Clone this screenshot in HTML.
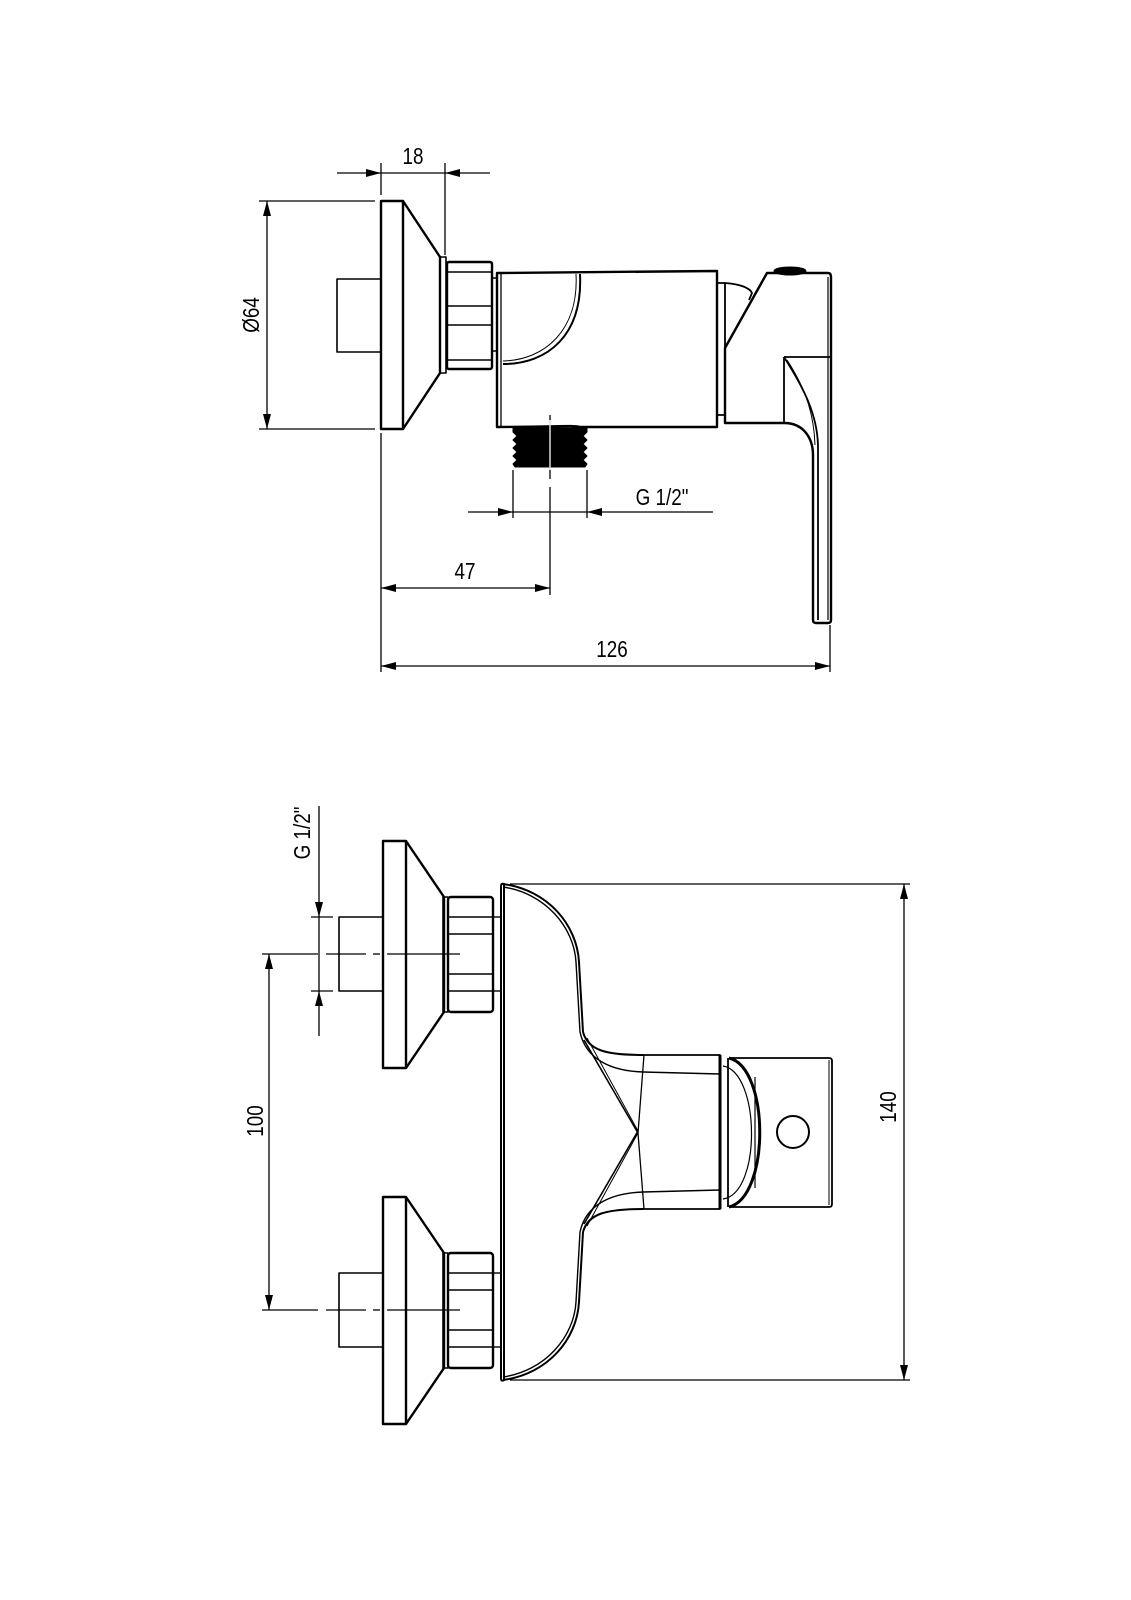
<!DOCTYPE html>
<html><head><meta charset="utf-8"><style>
html,body{margin:0;padding:0;background:#fff;}
svg{display:block;}
text{font-family:"Liberation Sans Narrow","Liberation Sans",sans-serif;font-size:23px;fill:#000;}
</style></head><body>
<svg width="1131" height="1600" viewBox="0 0 1131 1600" xmlns="http://www.w3.org/2000/svg">
<g fill="none" stroke="#000" stroke-linejoin="round">
<!-- ============ TOP VIEW ============ -->
<g stroke-width="1.3">
<line x1="337" y1="173" x2="490" y2="173"/>
<line x1="381" y1="163" x2="381" y2="195"/>
<line x1="445" y1="163" x2="445" y2="255"/>
<line x1="259" y1="201" x2="375" y2="201"/>
<line x1="259" y1="429" x2="375" y2="429"/>
<line x1="267" y1="201" x2="267" y2="429"/>
<line x1="381" y1="433" x2="381" y2="672"/>
<line x1="830" y1="625" x2="830" y2="672"/>
<line x1="513" y1="470" x2="513" y2="518"/>
<line x1="587" y1="470" x2="587" y2="518"/>
<line x1="468" y1="512" x2="713" y2="512"/>
<line x1="381" y1="588" x2="550" y2="588"/>
<line x1="381" y1="666" x2="830" y2="666"/>
<line x1="550" y1="415" x2="550" y2="479"/>
<line x1="550" y1="487" x2="550" y2="595"/>
</g>
<g fill="#000" stroke="none">
<polygon points="366,169 381,173 366,177"/>
<polygon points="460,169 445,173 460,177"/>
<polygon points="263,216 267,201 271,216"/>
<polygon points="263,414 267,429 271,414"/>
<polygon points="498,508 513,512 498,516"/>
<polygon points="602,508 587,512 602,516"/>
<polygon points="396,584 381,588 396,592"/>
<polygon points="535,584 550,588 535,592"/>
<polygon points="396,662 381,666 396,670"/>
<polygon points="815,662 830,666 815,670"/>
</g>
<g stroke-width="2.4">
<rect x="381" y="201" width="22" height="228"/>
<polyline points="403,201 440,257 440,373 403,429"/>
<rect x="337" y="279" width="44" height="73" stroke-width="1.6"/>
<rect x="440" y="257" width="6" height="116" stroke-width="1.6"/>
<rect x="447" y="262" width="45" height="107" rx="2"/>
<line x1="447" y1="272" x2="492" y2="272" stroke-width="1.6"/>
<line x1="447" y1="306" x2="492" y2="306" stroke-width="1.6"/>
<line x1="447" y1="325" x2="492" y2="325" stroke-width="1.6"/>
<line x1="447" y1="360" x2="492" y2="360" stroke-width="1.6"/>
<polyline points="492,278 497,278 497,351 492,351" stroke-width="1.4"/>
<path d="M497,273 L717,271 L717,427 L580,427 C570,425 560,427 497,427 Z"/>
<line x1="501" y1="274" x2="501" y2="427" stroke-width="1.3"/>
<path d="M580,274 C583,335 548,364 503,364" stroke-width="2"/>
<path d="M576,274 C579,330 545,360 503,361" stroke-width="1"/>
<path d="M513,428 L587,428 L587,432 L583,436 L587,440 L583,444 L587,448 L583,452 L587,456 L583,460 L587,464 L585,467 L515,467 L513,464 L517,460 L513,456 L517,452 L513,448 L517,444 L513,440 L517,436 L513,432 Z" fill="#000" stroke-width="1"/>
<line x1="550" y1="420" x2="550" y2="470" stroke="#fff" stroke-width="1.3"/>
<path d="M717,283 L725,283 L725,415 L717,415" stroke-width="1.8"/>
<path d="M725,283 C740,284 750,288 752,293 L749,300" stroke-width="1.8"/>
<path d="M725,423 L725,348 L767,273 L828,273 Q831,273 831,277 L831,620 Q831,623 828,623 L816,623 Q813,623 813,620 L813,455 C813,440 805,423 784,423 Z"/>
<line x1="828" y1="277" x2="828" y2="620" stroke-width="1.2"/>
<line x1="784" y1="357" x2="831" y2="357" stroke-width="1.8"/>
<line x1="784" y1="357" x2="784" y2="423" stroke-width="1.8"/>
<path d="M784,357 C805,390 817,415 818,445 L818,620" stroke-width="1.8"/>
<path d="M787,360 C808,392 814,418 815,445" stroke-width="1"/>
<ellipse cx="790" cy="271" rx="16" ry="4" fill="#000" stroke-width="1"/>
</g>
<!-- ============ BOTTOM VIEW ============ -->
<g stroke-width="1.3">
<line x1="319" y1="806" x2="319" y2="1036"/>
<line x1="311" y1="917" x2="333" y2="917"/>
<line x1="311" y1="991" x2="333" y2="991"/>
<line x1="262" y1="954" x2="318" y2="954"/>
<line x1="269" y1="954" x2="269" y2="1310"/>
<line x1="326" y1="954" x2="366" y2="954"/>
<line x1="373" y1="954" x2="380" y2="954"/>
<line x1="387" y1="954" x2="460" y2="954"/>
<line x1="262" y1="1310" x2="318" y2="1310"/>
<line x1="326" y1="1310" x2="366" y2="1310"/>
<line x1="373" y1="1310" x2="380" y2="1310"/>
<line x1="387" y1="1310" x2="460" y2="1310"/>
<line x1="510" y1="884" x2="910" y2="884"/>
<line x1="510" y1="1380" x2="910" y2="1380"/>
<line x1="904" y1="884" x2="904" y2="1380"/>
</g>
<g fill="#000" stroke="none">
<polygon points="315,902 319,917 323,902"/>
<polygon points="315,1006 319,991 323,1006"/>
<polygon points="265,969 269,954 273,969"/>
<polygon points="265,1295 269,1310 273,1295"/>
<polygon points="900,899 904,884 908,899"/>
<polygon points="900,1365 904,1380 908,1365"/>
</g>
<g id="fl" stroke-width="2.4">
<rect x="383" y="841" width="23" height="227"/>
<polyline points="406,841 444,897 444,1012 406,1068"/>
<rect x="339" y="917" width="44" height="74" stroke-width="1.6"/>
<rect x="443" y="897" width="5" height="115" stroke-width="1.6"/>
<rect x="448" y="897" width="45" height="115" rx="3"/>
<line x1="448" y1="917" x2="493" y2="917" stroke-width="1.6"/>
<line x1="448" y1="934" x2="493" y2="934" stroke-width="1.6"/>
<line x1="448" y1="974" x2="493" y2="974" stroke-width="1.6"/>
<line x1="448" y1="991" x2="493" y2="991" stroke-width="1.6"/>
<line x1="493" y1="917" x2="500" y2="917" stroke-width="1.4"/>
<line x1="493" y1="991" x2="500" y2="991" stroke-width="1.4"/>
</g>
<use href="#fl" transform="translate(0,356)"/>
<g stroke-width="2">
<path d="M501,886 Q501,883 504,884 L504,1380 Q501,1382 501,1378 Z"/>
<g id="cv">
<path d="M503,884 C548,890 577,925 579,962 L583,1032 C588,1050 605,1055 643,1055"/>
<path d="M503,887 C545,893 574,927 576,962 L580,1032 C586,1060 612,1071 643,1072" stroke-width="1.4"/>
<line x1="584" y1="1040" x2="638" y2="1133" stroke-width="1.6"/>
<line x1="587" y1="1038" x2="638" y2="1131" stroke-width="1"/>
</g>
<use href="#cv" transform="matrix(1,0,0,-1,0,2264)"/>
<polyline points="643,1055 720,1055 720,1209 643,1209" stroke-width="1.8"/>
<line x1="720" y1="1055" x2="720" y2="1209" stroke-width="3"/>
<line x1="643" y1="1072" x2="720" y2="1074" stroke-width="1.5"/>
<line x1="643" y1="1192" x2="720" y2="1190" stroke-width="1.5"/>
<polyline points="644,1055 638,1133 644,1209" stroke-width="1.3"/>
<path d="M729,1058 L829,1058 Q832,1058 832,1061 L832,1204 Q832,1207 829,1207 L729,1207" stroke-width="1.8"/>
<line x1="829" y1="1060" x2="829" y2="1205" stroke-width="1"/>
<path d="M729,1058 C770,1068 770,1197 729,1207" stroke-width="3"/>
<path d="M723,1066 C760,1072 762,1193 723,1199" stroke-width="1.2"/>
<line x1="728" y1="1058" x2="728" y2="1207" stroke-width="1.8"/>
<line x1="755" y1="1077" x2="755" y2="1188" stroke-width="1.2"/>
<circle cx="793" cy="1132" r="16" stroke-width="2"/>
</g>
</g>
<text transform="translate(413,164) scale(0.82,1)" text-anchor="middle">18</text>
<text transform="translate(259,315) rotate(-90) scale(0.82,1)" text-anchor="middle">Ø64</text>
<text transform="translate(662,505) scale(0.82,1)" text-anchor="middle">G 1/2"</text>
<text transform="translate(465,579) scale(0.82,1)" text-anchor="middle">47</text>
<text transform="translate(612,657) scale(0.82,1)" text-anchor="middle">126</text>
<text transform="translate(310,833) rotate(-90) scale(0.82,1)" text-anchor="middle">G 1/2"</text>
<text transform="translate(263,1121) rotate(-90) scale(0.82,1)" text-anchor="middle">100</text>
<text transform="translate(896,1107) rotate(-90) scale(0.82,1)" text-anchor="middle">140</text>
</svg>
</body></html>
